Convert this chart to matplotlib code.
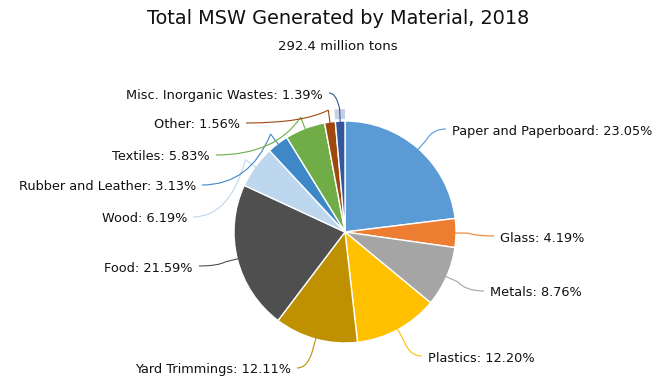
import numpy as np
import matplotlib
matplotlib.use("Agg")
import matplotlib.pyplot as plt
from matplotlib.path import Path
from matplotlib.patches import PathPatch, Wedge

materials = ["Paper and Paperboard", "Glass", "Metals", "Plastics", "Yard Trimmings",
             "Food", "Wood", "Rubber and Leather", "Textiles", "Other",
             "Misc. Inorganic Wastes"]
shares = [23.05, 4.19, 8.76, 12.20, 12.11, 21.59, 6.19, 3.13, 5.83, 1.56, 1.39]
colors = ["#5b9bd5", "#ed7d31", "#a5a5a5", "#ffc000", "#bf9000", "#4f4f4f",
          "#bdd7ee", "#3f88c8", "#70ad47", "#9e480e", "#34579b"]

title = "Total MSW Generated by Material, 2018"
subtitle = "292.4 million tons"

# label anchor positions in pixels (x, y from top) and alignment
label_pos = [(452, 131, "left"), (500, 238, "left"), (490, 293, "left"),
             (428, 358, "left"), (291, 370, "right"), (193, 268, "right"),
             (187, 219, "right"), (196, 187, "right"), (210, 157, "right"),
             (240, 125, "right"), (323, 95, "right")]

W, H = 669, 390
fig = plt.figure(figsize=(W / 100, H / 100), dpi=100)
ax = fig.add_axes([0, 0, 1, 1])

cx, cy, r = 345, H - 232, 111
wedges, _ = ax.pie(shares, colors=colors, startangle=90, counterclock=False,
                   center=(cx, cy), radius=r, frame=True,
                   wedgeprops=dict(edgecolor="white", linewidth=1))
ax.set_xlim(0, W)
ax.set_ylim(0, H)
ax.set_aspect("equal")
ax.axis("off")

# faint hover halo over the misc slice
mw = wedges[-1]
ax.add_patch(Wedge((cx, cy), r + 12, mw.theta1, mw.theta2, width=10,
                   facecolor="#b8c4dc", edgecolor="none", alpha=0.8))

fig.text(0.505, 1 - 18 / H, title, ha="center", va="center", fontsize=13.9,
         color="#111111")
fig.text(0.505, 1 - 47 / H, subtitle, ha="center", va="center", fontsize=9.5,
         color="#111111")

for w, name, val, (lx, ly, ha) in zip(wedges, materials, shares, label_pos):
    y = H - ly
    ax.text(lx, y, f"{name}: {val:.2f}%", ha=ha, va="center", fontsize=9.3,
            color="#111111")
    mid = np.deg2rad((w.theta1 + w.theta2) / 2)
    p = (cx + (r - 2) * np.cos(mid), cy + (r - 2) * np.sin(mid))
    k = (cx + (r + 12) * np.cos(mid), cy + (r + 12) * np.sin(mid))
    ex = lx - 6 if ha == "left" else lx + 6
    e = (ex, y + 2)
    ctrl = (k[0] + (e[0] - k[0]) * 0.3, e[1])
    path = Path([p, k, ctrl, e], [Path.MOVETO, Path.LINETO, Path.CURVE3, Path.CURVE3])
    ax.add_patch(PathPatch(path, facecolor="none", edgecolor=w.get_facecolor(),
                           linewidth=0.8))

fig.savefig("out.png", dpi=100)
